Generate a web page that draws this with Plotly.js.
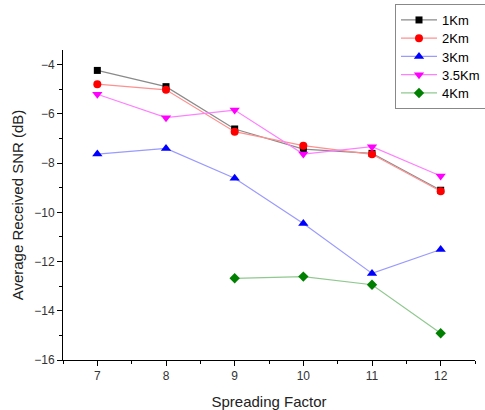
<!DOCTYPE html>
<html>
<head>
<meta charset="utf-8">
<script src="https://cdn.plot.ly/plotly-3.0.1.min.js"></script>
<style>
  html, body { margin: 0; padding: 0; background: #fff; overflow: hidden; }
  #chart { width: 485px; height: 410px; }
</style>
</head>
<body>
<div id="chart"></div>
<script>
// Spreading factor on the x axis
const spreadingFactor = [7, 8, 9, 10, 11, 12];
const spreadingFactor4Km = [9, 10, 11, 12];

// Average received SNR (dB) per distance
const snr1Km  = [-4.23, -4.89, -6.61, -7.43, -7.60, -9.10];
const snr2Km  = [-4.79, -5.02, -6.72, -7.29, -7.64, -9.14];
const snr3Km  = [-7.63, -7.40, -8.61, -10.45, -12.48, -11.51];
const snr35Km = [-5.20, -6.15, -5.84, -7.63, -7.33, -8.52];
const snr4Km  = [-12.68, -12.61, -12.94, -14.91];

const seriesNames = ['1Km', '2Km', '3Km', '3.5Km', '4Km'];

function series(name, x, y, lineColor, markerColor, symbol, size) {
  return {
    type: 'scatter', mode: 'lines+markers', name: name, x: x, y: y,
    line: { color: lineColor, width: 1.2 },
    marker: { color: markerColor, symbol: symbol, size: size }
  };
}

const traces = [
  series(seriesNames[0], spreadingFactor, snr1Km, '#8a8a8a', '#000000', 'square', 7),
  series(seriesNames[1], spreadingFactor, snr2Km, '#ff9090', '#ff0000', 'circle', 8),
  series(seriesNames[2], spreadingFactor, snr3Km, '#9a9aff', '#0000ff', 'triangle-up', 9),
  series(seriesNames[3], spreadingFactor, snr35Km, '#ff80ff', '#ff00ff', 'triangle-down', 9),
  series(seriesNames[4], spreadingFactor4Km, snr4Km, '#90c890', '#008000', 'diamond', 8)
];

const fontFamily = 'Liberation Sans, Arial, sans-serif';
const tickFont = { family: fontFamily, size: 12, color: '#333' };
const titleFont = { family: fontFamily, size: 15, color: '#222' };

const layout = {
  width: 485, height: 410,
  margin: { l: 63, r: 10, t: 50, b: 50 },
  paper_bgcolor: '#fff', plot_bgcolor: '#fff',
  showlegend: true,
  // drawn inside the plot first so it never pushes the margins, then moved below
  legend: {
    x: 0.02, xanchor: 'left', y: 0.98, yanchor: 'top',
    bordercolor: '#888', borderwidth: 1, bgcolor: '#fff',
    font: { family: fontFamily, size: 13, color: '#000' },
    tracegroupgap: 0, itemwidth: 36
  },
  xaxis: {
    range: [6.5, 12.5], dtick: 1, tick0: 7, automargin: false,
    showgrid: false, zeroline: false,
    showline: true, linecolor: '#000', linewidth: 1,
    ticks: 'outside', ticklen: 5, tickcolor: '#000',
    minor: { dtick: 0.5, ticks: 'outside', ticklen: 3, tickcolor: '#000', showgrid: false },
    tickfont: tickFont,
    title: { text: 'Spreading Factor', font: titleFont }
  },
  yaxis: {
    range: [-16, -3.4], dtick: 2, tick0: -16, automargin: false,
    showgrid: false, zeroline: false,
    showline: true, linecolor: '#000', linewidth: 1,
    ticks: 'outside', ticklen: 5, tickcolor: '#000',
    minor: { dtick: 1, ticks: 'outside', ticklen: 3, tickcolor: '#000', showgrid: false },
    tickfont: tickFont,
    title: { text: 'Average Received SNR (dB)', font: titleFont }
  }
};

// Legend box sits in the top-right corner and runs past the right edge;
// its rows are packed a little tighter than Plotly's default spacing.
const LEGEND_LEFT = 395, LEGEND_TOP = 4, ROW_STEP = 18.25;

function placeLegend(gd) {
  const legend = gd.querySelector('.legend');
  if (!legend) return;
  legend.setAttribute('transform', 'translate(' + LEGEND_LEFT + ',' + LEGEND_TOP + ')');
  const rows = Array.from(legend.querySelectorAll('.traces'));
  if (!rows.length) return;
  const parse = el => {
    const m = /translate\(\s*([-\d.]+)[ ,]+([-\d.]+)/.exec(el.getAttribute('transform') || '');
    return m ? [parseFloat(m[1]), parseFloat(m[2])] : [0, 0];
  };
  const first = parse(rows[0]);
  const lastOld = parse(rows[rows.length - 1])[1];
  rows.forEach((row, i) => {
    const p = parse(row);
    row.setAttribute('transform', 'translate(' + p[0] + ',' + (first[1] + i * ROW_STEP) + ')');
  });
  const shrink = lastOld - (first[1] + (rows.length - 1) * ROW_STEP);
  const bg = legend.querySelector('rect.bg');
  if (bg) {
    const h = parseFloat(bg.getAttribute('height'));
    bg.setAttribute('height', h - shrink);
    bg.setAttribute('width', 120);
  }
  legend.querySelectorAll('clipPath rect, rect.scrollbox-bg').forEach(r => r.setAttribute('width', 120));
}

Plotly.newPlot('chart', traces, layout, { displayModeBar: false, staticPlot: true })
  .then(placeLegend);
</script>
</body>
</html>
